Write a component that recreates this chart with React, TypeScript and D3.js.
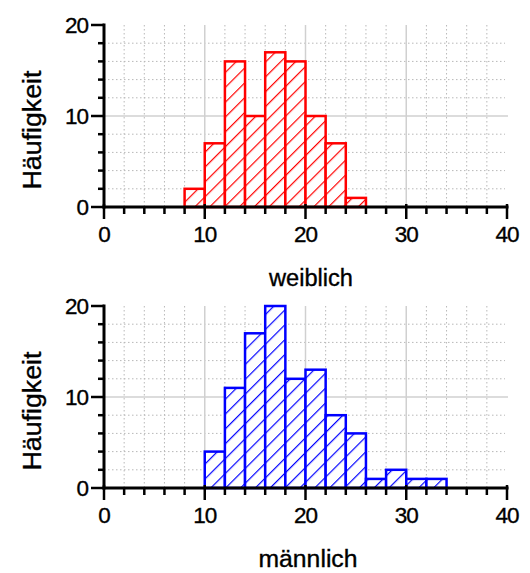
import React from "react";
import * as d3 from "d3";

// Histogram bins: lower edges (width 2) and counts per group
const binWidth = 2;
const femaleBins = [8, 10, 12, 14, 16, 18, 20, 22, 24];
const femaleCounts = [2, 7, 16, 10, 17, 16, 10, 7, 1];
const maleBins = [10, 12, 14, 16, 18, 20, 22, 24, 26, 28, 30, 32];
const maleCounts = [4, 11, 17, 20, 12, 13, 8, 6, 1, 2, 1, 1];

const xMajorTicks = [0, 10, 20, 30, 40];
const yMajorTicks = [0, 10, 20];
const yAxisTitle = "Häufigkeit";

const FONT = "'Liberation Sans', Arial, Helvetica, sans-serif";

const left = 104;
const right = 507;
const plotH = 182;

const x = d3.scaleLinear().domain([0, 40]).range([left, right]);

type PanelProps = {
  top: number;
  bins: number[];
  counts: number[];
  color: string;
  patternId: string;
  title: string;
  titleWidth: number;
  titleX: number;
};

function Panel({ top, bins, counts, color, patternId, title, titleWidth, titleX }: PanelProps) {
  const y = d3.scaleLinear().domain([0, 20]).range([top + plotH, top]);
  const xMinor = d3.range(2, 40, 2);
  const yMinor = d3.range(2, 20, 2);
  const bottom = y(0);

  return (
    <g>
      <defs>
        <pattern
          id={patternId}
          patternUnits="userSpaceOnUse"
          width={10.5}
          height={10.5}
          patternTransform="rotate(45)"
        >
          <rect x={0} y={0} width={10.5} height={10.5} fill="#fff" />
          <line x1={0.6} y1={0} x2={0.6} y2={10.5} stroke={color} strokeWidth={1.2} />
        </pattern>
      </defs>

      {/* minor grid, dotted */}
      {xMinor
        .filter((v) => v % 10 !== 0)
        .map((v) => (
          <line
            key={"gx" + v}
            x1={x(v)}
            x2={x(v)}
            y1={top}
            y2={bottom}
            stroke="#b8b8b8"
            strokeWidth={1}
            strokeDasharray="1.5,2.5"
          />
        ))}
      {yMinor
        .filter((v) => v % 10 !== 0)
        .map((v) => (
          <line
            key={"gy" + v}
            x1={left}
            x2={right - 2}
            y1={y(v)}
            y2={y(v)}
            stroke="#b8b8b8"
            strokeWidth={1}
            strokeDasharray="1.5,2.5"
          />
        ))}
      {/* major grid, solid */}
      {[10, 20, 30].map((v) => (
        <line key={"mx" + v} x1={x(v)} x2={x(v)} y1={top} y2={bottom} stroke="#d0d0d0" strokeWidth={1.5} />
      ))}
      <line x1={left} x2={right + 1} y1={y(10)} y2={y(10)} stroke="#d0d0d0" strokeWidth={1.5} />

      {/* bars */}
      {bins.map((b, i) => (
        <rect
          key={"bar" + b}
          x={x(b)}
          y={y(counts[i])}
          width={x(b + binWidth) - x(b)}
          height={bottom - y(counts[i])}
          fill={`url(#${patternId})`}
          stroke={color}
          strokeWidth={2.5}
        />
      ))}

      {/* y axis */}
      <line x1={left} x2={left} y1={top - 1.5} y2={bottom + 1.5} stroke="#000" strokeWidth={3} />
      {d3.range(0, 21, 2).map((v) => (
        <line
          key={"yt" + v}
          x1={left - (v % 10 === 0 ? 13 : 6)}
          x2={left}
          y1={y(v)}
          y2={y(v)}
          stroke="#000"
          strokeWidth={2.5}
        />
      ))}
      {yMajorTicks.map((v) => (
        <text
          key={"yl" + v}
          x={88}
          y={y(v)}
          dy="0.36em"
          textAnchor="end"
          fontFamily={FONT}
          fontSize={22.5}
          letterSpacing={-1}
          stroke="#000"
          strokeWidth={0.35}
          fill="#000"
        >
          {v}
        </text>
      ))}

      {/* x axis */}
      <line x1={left - 1.5} x2={right + 1.5} y1={bottom} y2={bottom} stroke="#000" strokeWidth={3} />
      {d3.range(0, 41, 2).map((v) => (
        <line
          key={"xt" + v}
          x1={x(v)}
          x2={x(v)}
          y1={bottom - (v % 10 === 0 ? 3 : 0)}
          y2={bottom + (v % 10 === 0 ? 12 : 7)}
          stroke="#000"
          strokeWidth={2.5}
        />
      ))}
      {xMajorTicks.map((v) => (
        <text
          key={"xl" + v}
          x={x(v)}
          y={bottom + 35}
          textAnchor="middle"
          fontFamily={FONT}
          fontSize={22.5}
          letterSpacing={-1}
          stroke="#000"
          strokeWidth={0.35}
          fill="#000"
        >
          {v}
        </text>
      ))}

      {/* axis titles */}
      <text
        transform={`translate(41,${top + 105}) rotate(-90)`}
        textAnchor="middle"
        fontFamily={FONT}
        fontSize={26}
        textLength={119}
        lengthAdjust="spacingAndGlyphs"
        stroke="#000"
        strokeWidth={0.35}
        fill="#000"
      >
        {yAxisTitle}
      </text>
      <text
        x={titleX}
        y={bottom + 79}
        textAnchor="middle"
        fontFamily={FONT}
        fontSize={23}
        textLength={titleWidth}
        lengthAdjust="spacingAndGlyphs"
        stroke="#000"
        strokeWidth={0.35}
        fill="#000"
      >
        {title}
      </text>
    </g>
  );
}

export default function App() {
  return (
    <svg
      width={530}
      height={573}
      style={{ position: "absolute", left: 0, top: 0, background: "#fff" }}
    >
      <rect width={530} height={573} fill="#fff" />
      <Panel
        top={25}
        bins={femaleBins}
        counts={femaleCounts}
        color="#ff0000"
        patternId="hatch-red"
        title="weiblich"
        titleWidth={84}
        titleX={311}
      />
      <Panel
        top={306}
        bins={maleBins}
        counts={maleCounts}
        color="#0000ff"
        patternId="hatch-blue"
        title="männlich"
        titleWidth={99}
        titleX={308}
      />
    </svg>
  );
}
